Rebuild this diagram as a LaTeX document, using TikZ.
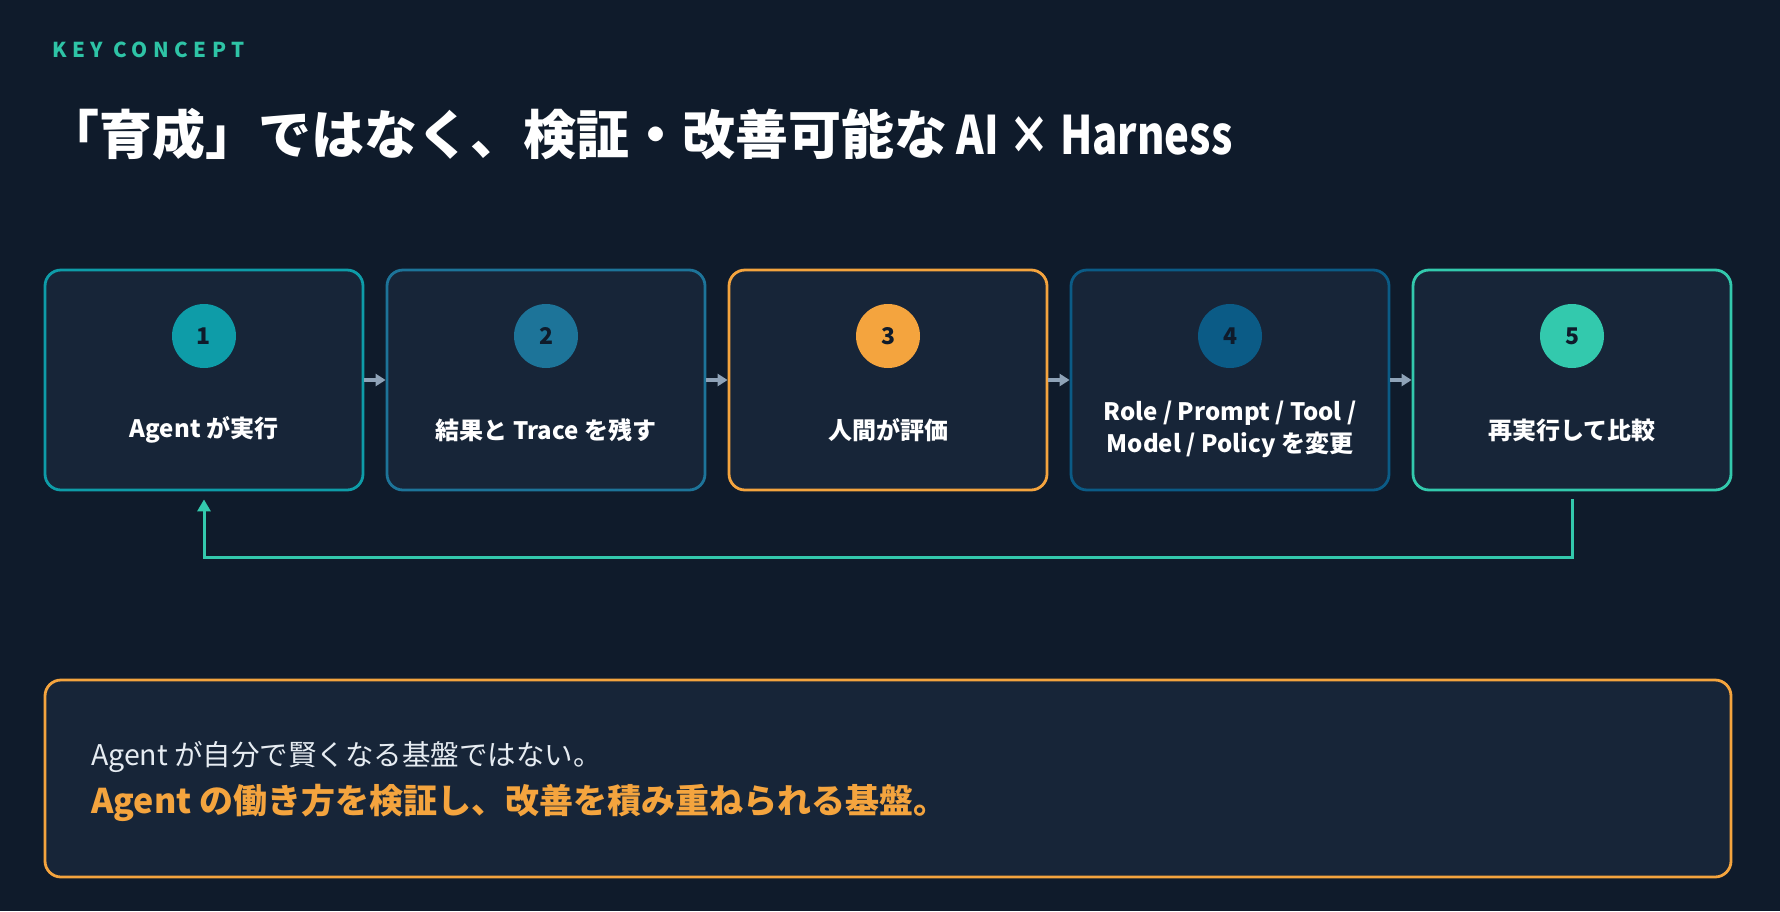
\documentclass[tikz,border=0pt]{standalone}
\usepackage{fontspec}
\setmainfont{Noto Sans CJK JP}
\newfontfamily\kcfont{Noto Sans CJK JP}[LetterSpace=27]
\newfontfamily\latfont{Noto Sans CJK JP}[FakeStretch=0.79]
\usetikzlibrary{arrows.meta}
\definecolor{bg}{HTML}{0F1B2B}
\definecolor{boxfill}{HTML}{172538}
\definecolor{cone}{HTML}{0E9CA8}
\definecolor{ctwo}{HTML}{1D7499}
\definecolor{cthree}{HTML}{F4A43E}
\definecolor{cfour}{HTML}{0B5B86}
\definecolor{cfive}{HTML}{33C9AD}
\definecolor{arrowgray}{HTML}{8FA3B8}
\definecolor{lighttext}{HTML}{E6ECF2}
\definecolor{keyteal}{HTML}{2EC4A6}
\tikzset{
  stepbox/.style={draw=#1, fill=boxfill, line width=2.8pt, rounded corners=16pt,
    minimum width=318pt, minimum height=220pt, inner sep=0pt},
  numdot/.style={circle, fill=#1, minimum size=64pt, inner sep=0pt,
    text=bg, font=\fontsize{23}{23}\selectfont\bfseries},
  steplabel/.style={text=white, align=center, inner sep=0pt,
    font=\fontsize{24}{32}\selectfont\bfseries},
  flowarrow/.style={draw=arrowgray, line width=3.5pt, -{Triangle[length=10pt,width=12pt]}},
  looparrow/.style={draw=cfive, line width=3pt, -{Triangle[length=12pt,width=13pt]}},
}
\begin{document}
\begin{tikzpicture}[x=1pt,y=-1pt]
\fill[bg] (0,0) rectangle (1780,911);
\useasboundingbox (0,0) rectangle (1780,911);

\node[anchor=west, text=keyteal, inner sep=0pt, font=\kcfont\fontsize{20.5}{20.5}\selectfont\bfseries] (kc) at (52,50) {KEY CONCEPT};
\node[anchor=west, text=white, inner sep=0pt, font=\fontsize{53}{53}\selectfont\bfseries] (title) at (46,134) {「育成」ではなく、検証・改善可能な{\latfont\bfseries{} AI × Harness}};

% boxes
\node[stepbox=cone]   (b1) at (204,380) {};
\node[stepbox=ctwo]   (b2) at (546,380) {};
\node[stepbox=cthree] (b3) at (888,380) {};
\node[stepbox=cfour]  (b4) at (1230,380) {};
\node[stepbox=cfive]  (b5) at (1572,380) {};

\node[numdot=cone]   (n1) at (204,336) {1};
\node[numdot=ctwo]   (n2) at (546,336) {2};
\node[numdot=cthree] (n3) at (888,336) {3};
\node[numdot=cfour]  (n4) at (1230,336) {4};
\node[numdot=cfive]  (n5) at (1572,336) {5};

\node[steplabel] (l1) at (204,430) {Agent が実行};
\node[steplabel] (l2) at (546,430) {結果と Trace を残す};
\node[steplabel] (l3) at (888,430) {人間が評価};
\node[steplabel] (l4) at (1230,429) {Role / Prompt / Tool /\\Model / Policy を変更};
\node[steplabel] (l5) at (1572,430) {再実行して比較};

\draw[flowarrow] (b1.east) -- (b2.west);
\draw[flowarrow] (b2.east) -- (b3.west);
\draw[flowarrow] (b3.east) -- (b4.west);
\draw[flowarrow] (b4.east) -- (b5.west);

\coordinate (loopstart) at ([yshift=-8pt]b5.south);
\coordinate (loopend) at ([yshift=-8pt]b1.south);
\draw[looparrow] (loopstart) -- ++(0,58) -| (loopend);

% bottom box
\node[draw=cthree, fill=boxfill, line width=2.8pt, rounded corners=16pt,
  minimum width=1686pt, minimum height=197pt, inner sep=0pt] (note) at (888,778.5) {};
\node[anchor=west, text=lighttext, inner sep=0pt, font=\fontsize{28.5}{28.5}\selectfont] (t1) at (91,757) {Agent が自分で賢くなる基盤ではない。};
\node[anchor=west, text=cthree, inner sep=0pt, font=\fontsize{34}{34}\selectfont\bfseries] (t2) at (91,803) {Agent の働き方を検証し、改善を積み重ねられる基盤。};
\end{tikzpicture}
\end{document}
